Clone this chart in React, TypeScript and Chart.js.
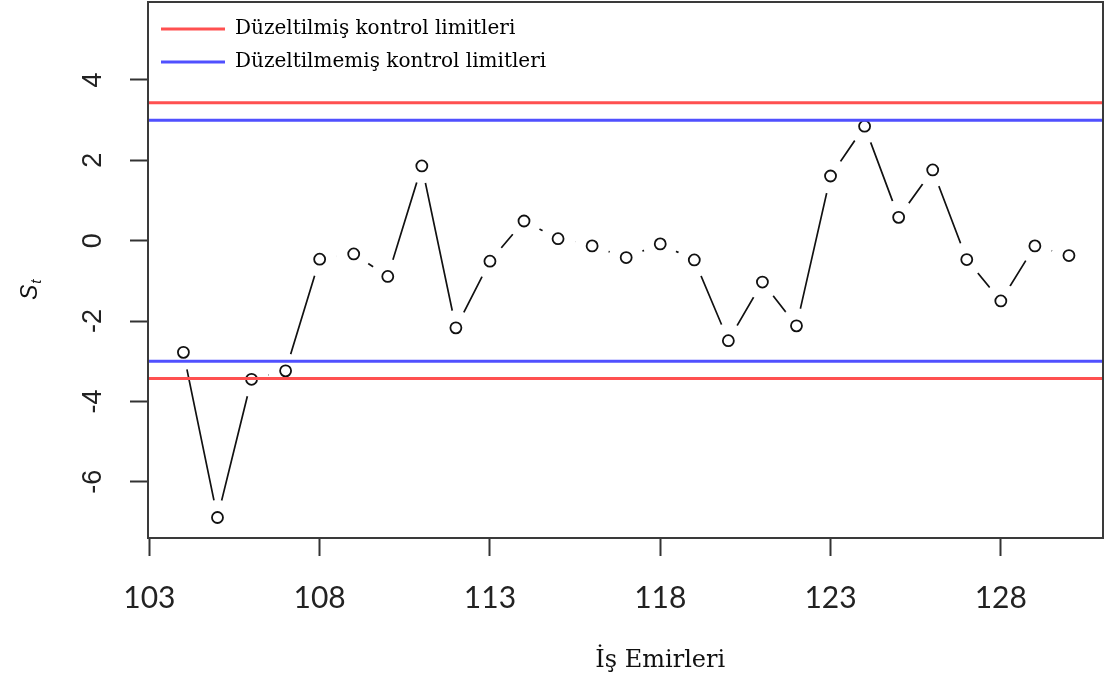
import React, { useEffect, useRef } from "react";
import { Chart, registerables } from "chart.js";

Chart.register(...registerables);

// ---- data ----
const orders = [104, 105, 106, 107, 108, 109, 110, 111, 112, 113, 114, 115, 116, 117, 118, 119, 120, 121, 122, 123, 124, 125, 126, 127, 128, 129, 130];
const stValues = [-2.78, -6.89, -3.45, -3.24, -0.46, -0.33, -0.89, 1.86, -2.17, -0.51, 0.49, 0.05, -0.13, -0.42, -0.08, -0.48, -2.49, -1.03, -2.12, 1.61, 2.85, 0.58, 1.76, -0.47, -1.5, -0.13, -0.37];
const adjustedLimits = [-3.43, 3.43];
const unadjustedLimits = [-3.0, 3.0];
const xTickValues = [103, 108, 113, 118, 123, 128];
const yTickValues = [-6, -4, -2, 0, 2, 4];
const legendLabels = ["Düzeltilmiş kontrol limitleri", "Düzeltilmemiş kontrol limitleri"];
const xTitle = "İş Emirleri";
const yTitleMain = "S";
const yTitleSub = "t";
const xTitleAtValue = 118;

const X_MIN = 102.96;
const X_MAX = 131.0;
const Y_MIN = -7.4;
const Y_MAX = 5.94;

const limitData = (lims: number[]) => [
  { x: X_MIN, y: lims[1] },
  { x: X_MAX, y: lims[1] },
  { x: X_MAX, y: null },
  { x: X_MIN, y: lims[0] },
  { x: X_MAX, y: lims[0] },
];

const seriesPoints = orders.map((o, i) => ({ x: o, y: stValues[i] }));

const zeroPadding = (scale: any) => {
  scale.paddingTop = 0;
  scale.paddingBottom = 0;
  scale.paddingLeft = 0;
  scale.paddingRight = 0;
};

const decorPlugin = {
  id: "decor",
  afterDatasetsDraw(chart: any) {
    const { ctx, chartArea } = chart;
    ctx.save();
    ctx.strokeStyle = "#3a3a3a";
    ctx.lineWidth = 2;
    ctx.strokeRect(chartArea.left, chartArea.top, chartArea.right - chartArea.left, chartArea.bottom - chartArea.top);
    ctx.restore();
  },
  afterDraw(chart: any) {
    const { ctx, chartArea, scales } = chart;
    ctx.save();
    // x title
    ctx.fillStyle = "#111";
    ctx.font = '24px "DejaVu Serif"';
    ctx.textAlign = "center";
    ctx.textBaseline = "alphabetic";
    ctx.fillText(xTitle, scales.x.getPixelForValue(xTitleAtValue), 667);
    // y title (S with subscript t), rotated
    const cy = (chartArea.top + chartArea.bottom) / 2;
    ctx.translate(37, cy + 30);
    ctx.rotate(-Math.PI / 2);
    ctx.textAlign = "left";
    ctx.font = 'italic 23px "Liberation Sans"';
    ctx.fillText(yTitleMain, 0, 0);
    const w = ctx.measureText(yTitleMain).width;
    ctx.font = 'italic 15px "Liberation Sans"';
    ctx.fillText(yTitleSub, w + 1, 4);
    ctx.restore();
  },
};

export default function App() {
  const canvasRef = useRef<HTMLCanvasElement | null>(null);

  useEffect(() => {
    if (!canvasRef.current) return;
    const chart = new Chart(canvasRef.current, {
      type: "line",
      data: {
        datasets: [
          {
            label: legendLabels[0],
            data: limitData(adjustedLimits) as any,
            borderColor: "#ff5050",
            backgroundColor: "#ff5050",
            borderWidth: 3,
            pointRadius: 0,
            spanGaps: false,
            order: 1,
          },
          {
            label: legendLabels[1],
            data: limitData(unadjustedLimits) as any,
            borderColor: "#5050ff",
            backgroundColor: "#5050ff",
            borderWidth: 3,
            pointRadius: 0,
            spanGaps: false,
            order: 1,
          },
          {
            label: "points",
            data: seriesPoints,
            showLine: false,
            pointRadius: 5.5,
            pointBorderWidth: 1.8,
            pointBorderColor: "#111",
            pointBackgroundColor: "rgba(255,255,255,0)",
            order: 2,
          },
          {
            label: "gaps",
            data: seriesPoints,
            showLine: false,
            pointRadius: 17.5,
            pointBorderWidth: 0,
            pointBorderColor: "#ffffff",
            pointBackgroundColor: "#ffffff",
            order: 3,
          },
          {
            label: "line",
            data: seriesPoints,
            borderColor: "#111",
            borderWidth: 1.7,
            pointRadius: 0,
            tension: 0,
            order: 4,
          },
        ],
      },
      options: {
        animation: false,
        responsive: false,
        events: [],
        layout: { autoPadding: false, padding: { top: 2, right: 2, left: 0, bottom: 0 } },
        plugins: {
          tooltip: { enabled: false },
          legend: {
            position: "chartArea" as any,
            align: "start",
            title: { display: true, text: " ", font: { size: 5 }, padding: 0 },
            labels: {
              filter: (item: any) => legendLabels.includes(item.text),
              usePointStyle: true,
              pointStyle: "line",
              pointStyleWidth: 64,
              padding: 13,
              color: "#000",
              font: { family: "DejaVu Serif", size: 20 },
            },
          },
        },
        scales: {
          x: {
            type: "linear",
            min: X_MIN,
            max: X_MAX,
            afterBuildTicks: (scale: any) => {
              scale.ticks = xTickValues.map((v) => ({ value: v }));
            },
            afterFit: (scale: any) => {
              scale.height = 142;
              zeroPadding(scale);
            },
            border: { display: false },
            grid: {
              display: true,
              drawOnChartArea: false,
              drawTicks: true,
              tickLength: 18,
              tickColor: "#333",
              tickWidth: 2,
            },
            ticks: {
              padding: 24,
              color: "#222",
              font: { family: "Lato", size: 30 },
              maxRotation: 0,
              minRotation: 0,
            },
          },
          y: {
            type: "linear",
            min: Y_MIN,
            max: Y_MAX,
            afterBuildTicks: (scale: any) => {
              scale.ticks = yTickValues.map((v) => ({ value: v }));
            },
            afterFit: (scale: any) => {
              scale.width = 148;
              zeroPadding(scale);
            },
            border: { display: false },
            grid: {
              display: true,
              drawOnChartArea: false,
              drawTicks: true,
              tickLength: 18,
              tickColor: "#333",
              tickWidth: 2,
            },
            ticks: {
              padding: 24,
              color: "#222",
              crossAlign: "center",
              minRotation: 90,
              maxRotation: 90,
              font: { family: "Liberation Sans", size: 27 },
            },
          },
        },
      },
      plugins: [decorPlugin],
    });
    return () => chart.destroy();
  }, []);

  return (
    <div style={{ position: "fixed", left: 0, top: 0, width: 1105, height: 680, background: "#fff" }}>
      <canvas ref={canvasRef} width={1105} height={680} />
    </div>
  );
}
